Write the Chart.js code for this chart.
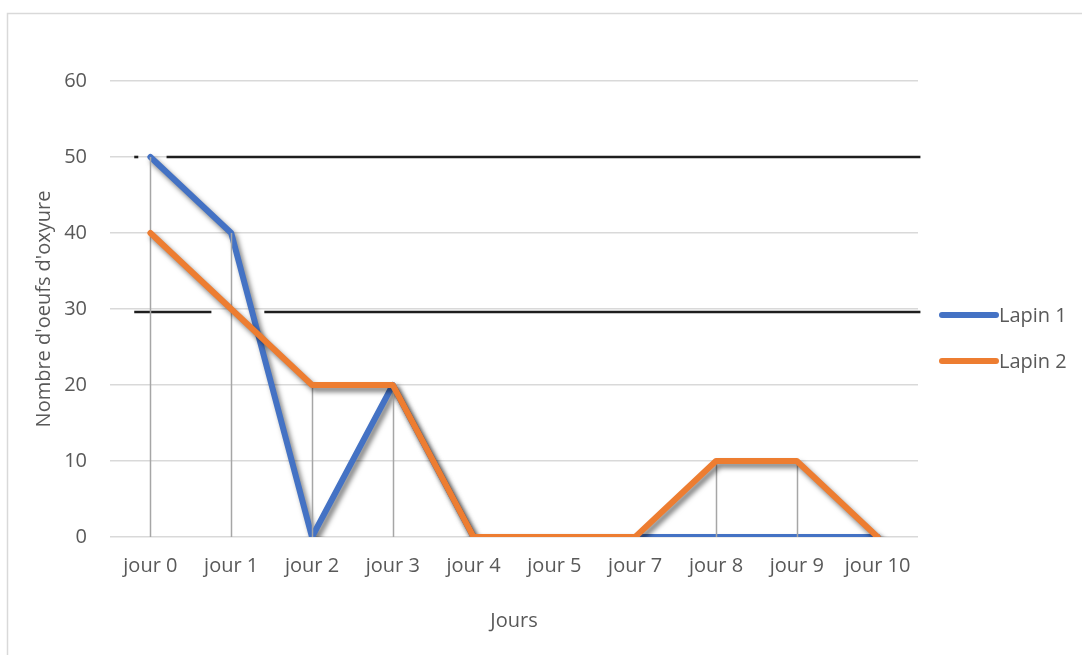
<!DOCTYPE html>
<html lang="fr">
<head>
<meta charset="utf-8">
<title>Nombre d'oeufs d'oxyure</title>
<script src="https://cdn.jsdelivr.net/npm/chart.js@4.4.1/dist/chart.umd.min.js"></script>
<style>
  html, body { margin: 0; padding: 0; background: #ffffff; }
  #wrap { width: 1082px; height: 655px; position: relative; }
</style>
</head>
<body>
<div id="wrap"><canvas id="chart" width="1082" height="655"></canvas></div>
<script>
// Egg counts per rabbit over the observation days
const categories = ['jour 0', 'jour 1', 'jour 2', 'jour 3', 'jour 4', 'jour 5', 'jour 7', 'jour 8', 'jour 9', 'jour 10'];
const lapin1 = [50, 40, 0, 20, 0, 0, 0, 0, 0, 0];
const lapin2 = [40, 30, 20, 20, 0, 0, 0, 10, 10, 0];
const seriesNames = ['Lapin 1', 'Lapin 2'];
const yMin = 0, yMax = 60, yStep = 10;
// Horizontal black marker levels
const markerLevels = [50, 29.6];

const FONT = "'Open Sans', 'Noto Sans', sans-serif";
const TEXT = '#595959';

// White page with a light frame
const framePlugin = {
  id: 'frame',
  beforeDraw(chart) {
    const ctx = chart.ctx;
    ctx.save();
    ctx.fillStyle = '#ffffff';
    ctx.fillRect(0, 0, chart.width, chart.height);
    ctx.strokeStyle = '#d9d9d9';
    ctx.lineWidth = 1.5;
    ctx.strokeRect(7.5, 13.5, chart.width + 20, chart.height + 20);
    ctx.restore();
  }
};

// Black marker lines, with their interrupted spans given in category units
const markerPlugin = {
  id: 'markers',
  beforeDatasetsDraw(chart, args, opts) {
    const {ctx, scales: {x, y}} = chart;
    const step = x.getPixelForValue(1) - x.getPixelForValue(0);
    const x0 = x.getPixelForValue(0);
    ctx.save();
    ctx.strokeStyle = '#1e1e1e';
    ctx.lineWidth = 2.6;
    markerLevels.forEach((lvl, k) => {
      const py = y.getPixelForValue(lvl);
      (opts.spans[k] || []).forEach(([a, b]) => {
        ctx.beginPath();
        ctx.moveTo(x0 + a * step, py);
        ctx.lineTo(x0 + b * step, py);
        ctx.stroke();
      });
    });
    ctx.restore();
  }
};

// Soft drop shadow beneath each series line
const shadowPlugin = {
  id: 'lineShadow',
  beforeDatasetDraw(chart) {
    const ctx = chart.ctx;
    ctx.save();
    ctx.shadowColor = 'rgba(0,0,0,0.5)';
    ctx.shadowBlur = 5;
    ctx.shadowOffsetX = 3;
    ctx.shadowOffsetY = 4;
  },
  afterDatasetDraw(chart) {
    chart.ctx.restore();
  }
};

// Vertical drop lines from the highest value of each day down to zero
const dropLinePlugin = {
  id: 'dropLines',
  afterDatasetDraw(chart, args) {
    if (args.index !== 0) return;
    const {ctx, scales: {x, y}} = chart;
    ctx.save();
    ctx.strokeStyle = '#a6a6a6';
    ctx.lineWidth = 1.5;
    categories.forEach((c, i) => {
      const top = Math.max(lapin1[i], lapin2[i]);
      if (top <= 0) return;
      const px = Math.round(x.getPixelForValue(i)) + 0.5;
      ctx.beginPath();
      ctx.moveTo(px, y.getPixelForValue(top));
      ctx.lineTo(px, y.getPixelForValue(0));
      ctx.stroke();
    });
    ctx.restore();
  }
};

// Legend on the right: thick line swatch followed by the series name
const sideLegendPlugin = {
  id: 'sideLegend',
  afterDraw(chart, args, opts) {
    const ctx = chart.ctx;
    ctx.save();
    chart.data.datasets.forEach((ds, i) => {
      const cy = opts.top + i * opts.gap;
      ctx.strokeStyle = ds.borderColor;
      ctx.lineWidth = 6;
      ctx.lineCap = 'round';
      ctx.beginPath();
      ctx.moveTo(opts.x0, cy);
      ctx.lineTo(opts.x1, cy);
      ctx.stroke();
      ctx.fillStyle = TEXT;
      ctx.font = '20px ' + FONT;
      ctx.textBaseline = 'middle';
      ctx.textAlign = 'left';
      ctx.fillText(ds.label, opts.x1 + 3, cy + 1);
    });
    ctx.restore();
  }
};

new Chart(document.getElementById('chart'), {
  type: 'line',
  data: {
    labels: categories,
    datasets: [
      {
        label: seriesNames[0],
        data: lapin1,
        borderColor: '#4472c4',
        backgroundColor: '#4472c4',
        borderWidth: 6,
        borderCapStyle: 'round',
        borderJoinStyle: 'round',
        pointRadius: 0,
        tension: 0,
        order: 1
      },
      {
        label: seriesNames[1],
        data: lapin2,
        borderColor: '#ed7d31',
        backgroundColor: '#ed7d31',
        borderWidth: 6,
        borderCapStyle: 'round',
        borderJoinStyle: 'round',
        pointRadius: 0,
        tension: 0,
        order: 0
      }
    ]
  },
  options: {
    responsive: false,
    animation: false,
    devicePixelRatio: 1,
    layout: { padding: { top: 81, right: 164, bottom: 0, left: 0 } },
    plugins: {
      legend: { display: false },
      tooltip: { enabled: false },
      markers: { spans: [[[-0.2, -0.15], [0.2, 9.53]], [[-0.2, 0.755], [1.41, 9.53]]] },
      sideLegend: { x0: 942, x1: 996, top: 315, gap: 46 }
    },
    scales: {
      x: {
        offset: true,
        grid: { display: false, drawTicks: false },
        border: { display: false },
        ticks: { color: TEXT, font: { family: FONT, size: 20 }, padding: 17, maxRotation: 0, autoSkip: false },
        title: { display: true, text: 'Jours', color: TEXT, font: { family: FONT, size: 20 }, padding: { top: 0, bottom: 22 } },
        afterFit(s) { s.height = 118; }
      },
      y: {
        min: yMin,
        max: yMax,
        ticks: { stepSize: yStep, color: TEXT, font: { family: FONT, size: 20 }, padding: 23 },
        grid: { color: '#d9d9d9', lineWidth: 1.5, drawTicks: false },
        border: { display: false },
        title: { display: true, text: "Nombre d'oeufs d'oxyure", color: TEXT, font: { family: FONT, size: 20 }, padding: { top: 32, bottom: 0 } },
        afterFit(s) { s.width = 110; }
      }
    }
  },
  plugins: [framePlugin, markerPlugin, shadowPlugin, dropLinePlugin, sideLegendPlugin]
});
</script>
</body>
</html>
